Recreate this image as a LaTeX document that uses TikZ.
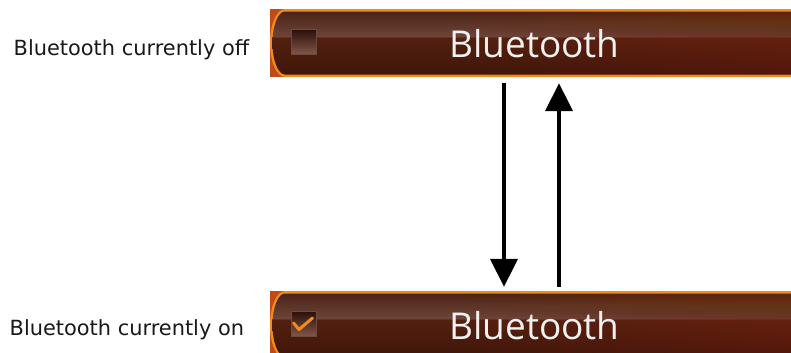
\documentclass[tikz,border=0pt]{standalone}
\usepackage{fontspec}
\setmainfont{DejaVu Sans}
\newfontfamily\barfont{Open Sans}
\usetikzlibrary{arrows.meta}
\definecolor{barorange}{HTML}{F08C1C}
\definecolor{barcorner}{HTML}{C04A18}
\definecolor{bartop}{HTML}{4C2317}
\definecolor{barshine}{HTML}{6C4538}
\definecolor{barlow}{HTML}{52200F}
\definecolor{barbottom}{HTML}{3F160A}
\definecolor{barright}{HTML}{8C3512}
\definecolor{boxtop}{HTML}{2A0E07}
\definecolor{boxbottom}{HTML}{80564A}
\definecolor{boxedge}{HTML}{6E4A3E}
\pgfdeclareverticalshading{barglow}{100bp}{color(0bp)=(barbottom); color(25bp)=(barbottom); color(54bp)=(barlow); color(55.5bp)=(barshine); color(75bp)=(bartop); color(100bp)=(bartop)}

\begin{document}
\begin{tikzpicture}[x=1bp, y=-1bp, >={Triangle[width=27bp,length=28bp]},
  barzone/.style={rectangle, minimum width=521bp, minimum height=68bp, inner sep=0pt},
  bartext/.style={text=white!94!black, font=\barfont\fontsize{37bp}{40bp}\selectfont, inner sep=0pt},
  checkbox/.style={rectangle, minimum size=25bp, inner sep=0pt, draw=boxedge, line width=0.8bp, top color=boxtop, bottom color=boxbottom},
  state/.style={font=\fontsize{20.9bp}{24bp}\selectfont, text=black!90, inner sep=0pt},
  flow/.style={->, line width=4bp}]
	\clip (0,0) rectangle (791,352);
	\foreach \y/\nm in {9/off,291/on} {
		\fill[barcorner] (270,\y) rectangle (292,\y+68);
		\fill[barorange] (791,\y) -- (285,\y) arc[start angle=270, end angle=90, x radius=15, y radius=34] -- (791,\y+68) -- cycle;
		\shade[shading=barglow] (791,\y+2.5) -- (285,\y+2.5) arc[start angle=270, end angle=90, x radius=12.5, y radius=31.5] -- (791,\y+65.5) -- cycle;
		% warmer towards the right end
		\foreach \i in {0,...,17} {\fill[barright, fill opacity=0.025] (470+\i*18,\y+2.5) rectangle (791,\y+65.5);}
		\node[barzone] (\nm bar) at (530.5,\y+34) {};
		\node[checkbox] (\nm box) at (303.5,\y+32.5) {};
		\node[bartext, anchor=base] (\nm text) at (534.5,\y+48) {Bluetooth};
	}
	\draw[barorange, line width=3bp, line cap=round, line join=round] (293.5,323) -- (299,329.5) -- (312.5,318);
	\node[state, anchor=base west] (offlabel) at (13.5,55) {Bluetooth currently off};
	\node[state, anchor=base west] (onlabel) at (9.5,335) {Bluetooth currently on};
	\coordinate (down) at (504,0);
	\coordinate (up) at (559,0);
	\draw[flow, shorten <=6bp, shorten >=4bp] (offbar.south -| down) -- (onbar.north -| down);
	\draw[flow, shorten <=4bp, shorten >=6bp] (onbar.north -| up) -- (offbar.south -| up);
\end{tikzpicture}
\end{document}
